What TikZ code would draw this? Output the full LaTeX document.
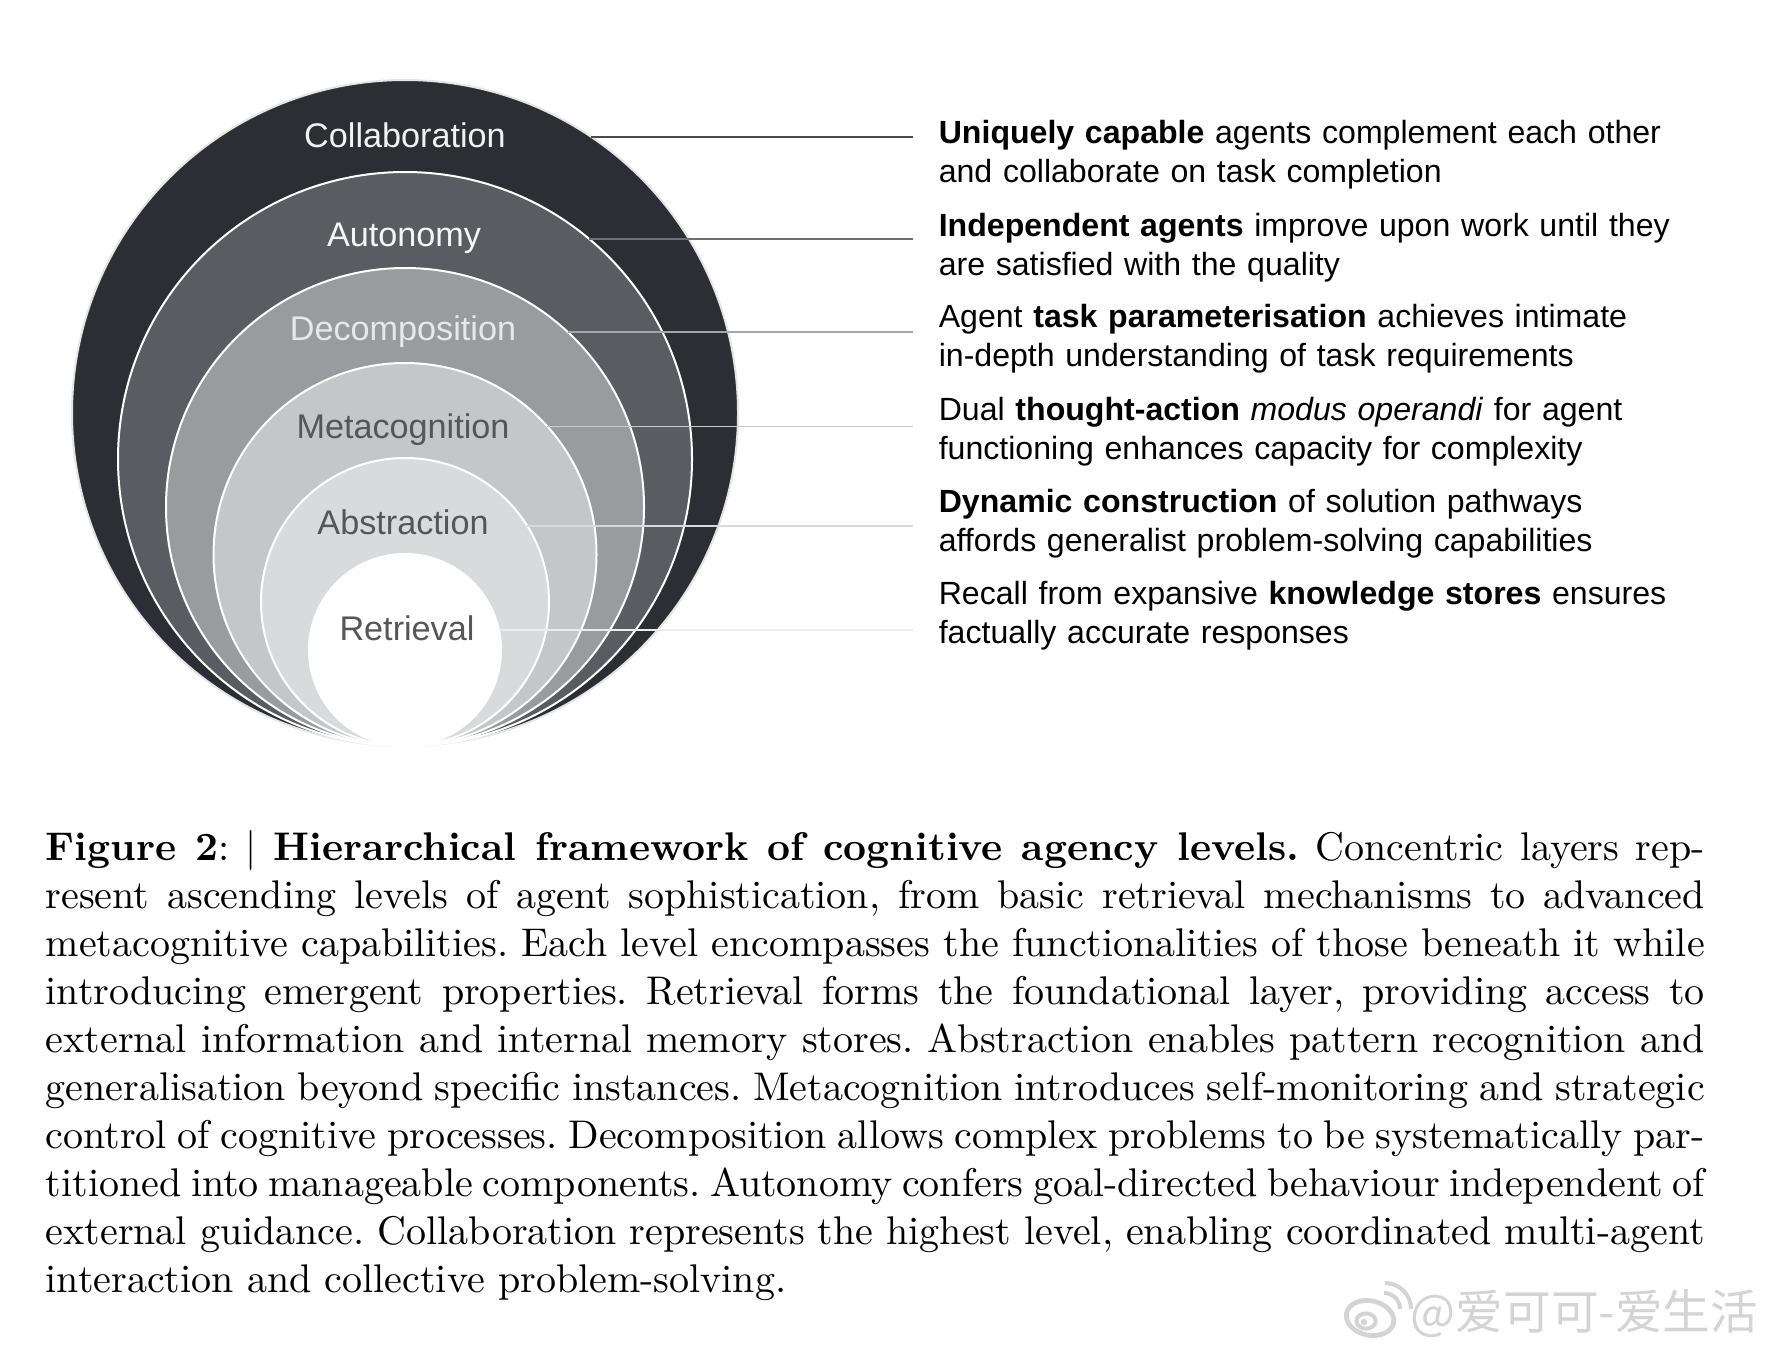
\documentclass[tikz,border=0pt]{standalone}
\usepackage{fontspec}
\setmainfont{Latin Modern Roman}
\newfontfamily\arialf{Liberation Sans}
\newfontfamily\cjkf{Noto Sans CJK SC}
\definecolor{ringA}{HTML}{2D2E34}
\definecolor{ringB}{HTML}{5B5C61}
\definecolor{ringC}{HTML}{9A9B9F}
\definecolor{ringD}{HTML}{C5C6C8}
\definecolor{ringE}{HTML}{D9DADC}
\definecolor{ringF}{HTML}{FFFFFF}
\definecolor{labdark}{HTML}{55565A}
\definecolor{lnA}{HTML}{4A4B50}
\definecolor{lnB}{HTML}{6E6F73}
\definecolor{lnC}{HTML}{A5A6A9}
\definecolor{lnD}{HTML}{C9CACC}
\definecolor{lnE}{HTML}{D8D9DB}
\definecolor{lnF}{HTML}{ECECEC}
\definecolor{wm}{HTML}{D4D4D4}
\begin{document}
\begin{tikzpicture}[x=0.25pt,y=-0.25pt,
  ring/.style={circle, inner sep=0pt, outer sep=0pt, draw=white, line width=0.5pt},
  lab/.style={anchor=base, inner sep=0pt, font=\arialf\fontsize{8.55}{10}\selectfont},
  leader/.style={line width=0.4pt},
  desc/.style={anchor=base west, inner sep=0pt, text width=200pt, align=left,
    font=\arialf\fontsize{8.02}{9.75}\selectfont},
  capt/.style={anchor=base west, inner sep=0pt, text width=414.75pt, align=justify,
    font=\fontsize{10}{12}\selectfont}]
\useasboundingbox (0,0) rectangle (1772,1350);
\fill[white] (0,0) rectangle (1772,1350);

% concentric circles
\node[ring, fill=ringA, draw=black!10, minimum size=166.5pt] (c1) at (405,413) {};
\node[ring, fill=ringB, minimum size=143.5pt] (c2) at (405,459) {};
\node[ring, fill=ringC, minimum size=119.5pt] (c3) at (405,507) {};
\node[ring, fill=ringD, minimum size=95.75pt] (c4) at (405,554.5) {};
\node[ring, fill=ringE, minimum size=72pt] (c5) at (405,602) {};
\node[ring, fill=ringF, minimum size=48pt] (c6) at (405,650) {};

% leader end points
\coordinate (e1) at (913,137);
\coordinate (e2) at (913,237);
\coordinate (e3) at (913,330);
\coordinate (e4) at (913,424);
\coordinate (e5) at (913,524);
\coordinate (e6) at (913,629);

\draw[leader, lnA] (c1.56) -- (c1.56 -| e1);
\draw[leader, lnB] (c2.50.67) -- (c2.50.67 -| e2);
\draw[leader, lnC] (c3.47.78) -- (c3.47.78 -| e3);
\draw[leader, lnD] (c4.42.96) -- (c4.42.96 -| e4);
\draw[leader, lnE] (c5.32.8) -- (c5.32.8 -| e5);
\draw[leader, lnF] (c6.12.64) -- (c6.12.64 -| e6);

% ring labels
\node[lab, text=black!5] (l1) at (405,147) {Collaboration};
\node[lab, text=black!4] (l2) at (404,246) {Autonomy};
\node[lab, text=black!9] (l3) at (403,340) {Decomposition};
\node[lab, text=labdark] (l4) at (403,438) {Metacognition};
\node[lab, text=labdark] (l5) at (403,534) {Abstraction};
\node[lab, text=labdark] (l6) at (407,640) {Retrieval};

% descriptions
\node[desc] (d1) at (938,143) {\textbf{Uniquely capable} agents complement each other\\and collaborate on task completion};
\node[desc] (d2) at (938,236) {\textbf{Independent agents} improve upon work until they\\are satisfied with the quality};
\node[desc] (d3) at (938,327) {Agent \textbf{task parameterisation} achieves intimate\\in-depth understanding of task requirements};
\node[desc] (d4) at (938,420) {Dual \textbf{thought-action} \textit{modus operandi} for agent\\functioning enhances capacity for complexity};
\node[desc] (d5) at (938,512) {\textbf{Dynamic construction} of solution pathways\\affords generalist problem-solving capabilities};
\node[desc] (d6) at (938,604) {Recall from expansive \textbf{knowledge stores} ensures\\factually accurate responses};

% caption
\node[capt] (cap) at (45,860) {\frenchspacing\tolerance=10000\hyphenpenalty=10000\exhyphenpenalty=10000%
\textbf{Figure 2}: | \textbf{Hierarchical framework of cognitive agency levels.} Concentric layers rep-\linebreak
resent ascending levels of agent sophistication, from basic retrieval mechanisms to advanced\linebreak
metacognitive capabilities. Each level encompasses the functionalities of those beneath it while\linebreak
introducing emergent properties. Retrieval forms the foundational layer, providing access to\linebreak
external information and internal memory stores. Abstraction enables pattern recognition and\linebreak
generalisation beyond specific instances. Metacognition introduces self-monitoring and strategic\linebreak
control of cognitive processes. Decomposition allows complex problems to be systematically par-\linebreak
titioned into manageable components. Autonomy confers goal-directed behaviour independent of\linebreak
external guidance. Collaboration represents the highest level, enabling coordinated multi-agent\linebreak
interaction and collective problem-solving.};

% watermark
\draw[wm, line width=1.2pt, rotate around={-12:(1370,1318)}] (1370,1318) ellipse[x radius=6pt, y radius=4.3pt];
\draw[wm, line width=1pt] (1366,1321) ellipse[x radius=2.4pt, y radius=1.9pt];
\fill[wm] (1364,1322) circle[radius=0.8pt];
\draw[wm, line width=1pt] (1384,1293) arc[start angle=90, end angle=0, radius=4pt];
\draw[wm, line width=1pt] (1385,1283) arc[start angle=90, end angle=0, radius=6.5pt];
\node[anchor=base west, inner sep=0pt, text=wm, font=\cjkf\fontsize{11.9}{12}\selectfont] (wmt) at (1410,1329) {@爱可可-爱生活};
\end{tikzpicture}
\end{document}
